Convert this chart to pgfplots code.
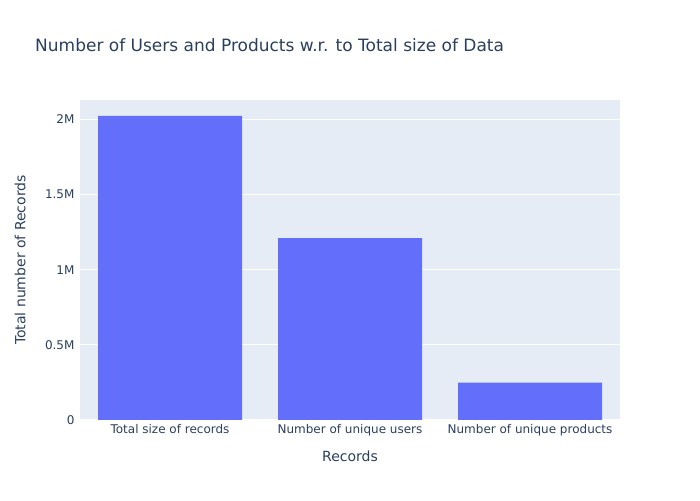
\documentclass[border=0pt]{standalone}
\usepackage{pgfplots}
\pgfplotsset{compat=1.18}
\usepackage{fontspec}
\setmainfont{DejaVu Sans}
\definecolor{plotbg}{HTML}{E5ECF6}
\definecolor{barc}{HTML}{636EFA}
\definecolor{txt}{HTML}{2A3F5F}
\begin{document}
\begin{tikzpicture}[x=1pt,y=1pt]
\path[use as bounding box] (0,0) rectangle (700,500);
\begin{axis}[
  at={(80pt,80pt)}, anchor=south west,
  scale only axis, width=540pt, height=320pt,
  axis background/.style={fill=plotbg},
  axis line style={draw=none},
  xmin=-0.5, xmax=2.5, ymin=0, ymax=2129547,
  xtick={0,1,2},
  xticklabels={Total size of records,Number of unique users,Number of unique products},
  ytick={0,500000,1000000,1500000,2000000},
  yticklabels={0,0.5M,1M,1.5M,2M},
  scaled y ticks=false,
  ymajorgrids, grid style={white, line width=1pt},
  major tick length=0pt,
  tick label style={font=\fontsize{12}{14}\selectfont, text=txt},
  /pgf/number format/assume math mode=true,
  yticklabel style={xshift=-2pt},
  xticklabel style={yshift=-1pt},
  xlabel={Records}, ylabel={Total number of Records},
  label style={font=\fontsize{14}{16}\selectfont, text=txt},
  xlabel style={at={(axis description cs:0.5,-0.1125)}, anchor=center},
  ylabel style={at={(axis description cs:-0.111,0.5)}, anchor=center, rotate=0},
  ybar, bar width=0.8,
  clip=false,
]
\addplot[fill=barc, draw=none] coordinates {(0,2023070) (1,1210271) (2,249274)};
\end{axis}
\node[anchor=west, inner sep=0pt, text=txt, font=\fontsize{17}{20}\selectfont] at (35,455) {Number of Users and Products w.r. to Total size of Data};
\end{tikzpicture}
\end{document}
